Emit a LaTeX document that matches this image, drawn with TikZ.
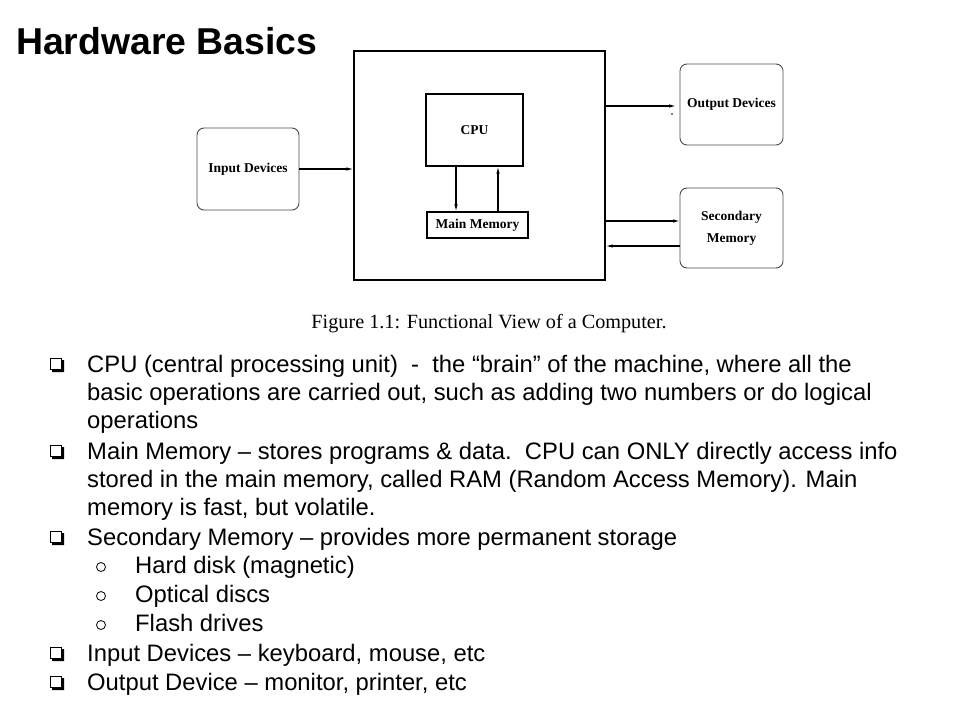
\documentclass[tikz,border=0pt]{standalone}
\usepackage{fontspec}
\setmainfont{Liberation Serif}
\newfontfamily\arial{Liberation Sans}
\usetikzlibrary{arrows.meta}
\begin{document}
\begin{tikzpicture}[x=1pt,y=-1pt,
  sqbox/.style={draw=black, line width=1.3pt, inner sep=0pt, font=\bfseries\fontsize{13.5}{22}\selectfont, align=center},
  rbox/.style={draw=black!70, line width=0.9pt, rounded corners=7pt, inner sep=0pt, font=\bfseries\fontsize{13.5}{22}\selectfont, align=center},
  conn/.style={line width=1.1pt, -{Latex[length=7pt,width=3.5pt]}},
  txt/.style={anchor=base west, inner sep=0pt, font=\arial\fontsize{23.8}{28}\selectfont},
  qb/.pic={
    \draw[line width=1pt] (0,-14) rectangle (11.5,-2.5);
    \fill (11.5,-12) -- (14,-12) -- (14,0) -- (2,0) -- (2,-2.5) -- (11.5,-2.5) -- cycle;
  },
  ob/.pic={\draw[line width=0.8pt] (0,-6) circle (4.5);}
]
\useasboundingbox (0,0) rectangle (960,720);
\fill[white] (0,0) rectangle (960,720);

% title
\node[anchor=base west, inner sep=0pt, font=\arial\bfseries\fontsize{37.4}{40}\selectfont] (title) at (16,54) {Hardware Basics};

% diagram
\node[sqbox, minimum width=251, minimum height=229] (sys) at (479.5,165.5) {};
\node[sqbox, minimum width=97, minimum height=72] (cpu) at (474.5,130) {CPU};
\node[sqbox, minimum width=101, minimum height=26] (mm) at (477.5,225) {Main Memory};
\node[rbox, minimum width=102, minimum height=82] (inp) at (248,169) {Input Devices};
\node[rbox, minimum width=103, minimum height=81] (out) at (731.5,104.5) {Output Devices};
\node[rbox, minimum width=103, minimum height=80] (sec) at (731.5,228) {Secondary\\Memory};

\coordinate (oend) at (676,106);
\coordinate (s1) at (680,221);
\coordinate (s2) at (680,246);
\coordinate (cd) at (456,0);
\coordinate (cu) at (498,0);

\draw[conn] (inp.east) -- (inp.east -| sys.west);
\draw[conn] (oend -| sys.east) -- (oend);
\draw[conn] (s1 -| sys.east) -- (s1);
\draw[conn] (s2) -- (s2 -| sys.east);
\draw[conn] (cd |- cpu.south) -- (cd |- mm.north);
\draw[conn] (cu |- mm.north) -- (cu |- cpu.south);
\fill (672,114) circle (0.8);

\node[anchor=base, inner sep=0pt, font=\fontsize{20.2}{24}\selectfont] (cap) at (489,328) {Figure 1.1: Functional View of a Computer.};

% bullets
\pic at (50,372) {qb};
\node[txt] (l1) at (87,372) {CPU (central processing unit)~~-~~the “brain” of the machine, where all the};
\node[txt] (l2) at (87,400) {basic operations are carried out, such as adding two numbers or do logical};
\node[txt] (l3) at (87,428) {operations};
\pic at (50,459) {qb};
\node[txt] (l4) at (87,459) {Main Memory – stores programs \& data.~~CPU can ONLY directly access info};
\node[txt] (l5) at (87,487) {stored in the main memory, called RAM (Random Access Memory). Main};
\node[txt] (l6) at (87,515) {memory is fast, but volatile.};
\pic at (50,545) {qb};
\node[txt] (l7) at (87,545) {Secondary Memory – provides more permanent storage};
\pic at (101,573) {ob};
\node[txt] (l8) at (135,573) {Hard disk (magnetic)};
\pic at (101,602) {ob};
\node[txt] (l9) at (135,602) {Optical discs};
\pic at (101,631) {ob};
\node[txt] (l10) at (135,631) {Flash drives};
\pic at (50,661) {qb};
\node[txt] (l11) at (87,661) {Input Devices – keyboard, mouse, etc};
\pic at (50,690) {qb};
\node[txt] (l12) at (87,690) {Output Device – monitor, printer, etc};
\end{tikzpicture}
\end{document}
